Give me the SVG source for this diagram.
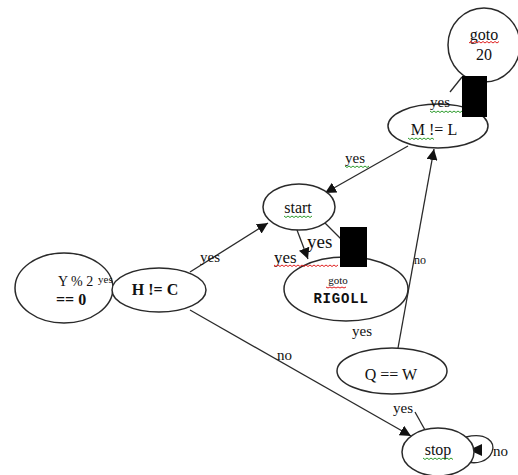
<svg xmlns="http://www.w3.org/2000/svg" width="518" height="475" viewBox="0 0 518 475">
  <style>
    .node { fill: #fff; stroke: #2a2a2a; stroke-width: 1.5; }
    .edge { fill: none; stroke: #2a2a2a; stroke-width: 1.3; }
    .t { font-family: "Liberation Serif", "Times New Roman", serif; font-size: 15px; fill: #111; }
    .n { font-size: 16px; }
    .b { font-weight: bold; }
    .m { font-family: "Liberation Mono", "Courier New", monospace; font-size: 14px; font-weight: bold; fill: #111; }
    .red { fill: none; stroke: #e02020; stroke-width: 1; }
    .grn { fill: none; stroke: #2a9a2a; stroke-width: 1; }
    .mask { fill: #000; }
  </style>
  <defs>
    <marker id="arr" viewBox="0 0 10 10" refX="10" refY="5" markerWidth="11" markerHeight="11" markerUnits="userSpaceOnUse" orient="auto">
      <path d="M0,0 L10,5 L0,10 z" fill="#111"/>
    </marker>
  </defs>

  <!-- connectors -->
  <g id="edges">
    <line class="edge" x1="462" y1="77" x2="450" y2="92"/>
    <line class="edge" x1="408" y1="146" x2="325" y2="193" marker-end="url(#arr)"/>
    <line class="edge" x1="190" y1="272" x2="268" y2="223" marker-end="url(#arr)"/>
    <line class="edge" x1="297" y1="230" x2="308" y2="259" marker-end="url(#arr)"/>
    <line class="edge" x1="325" y1="223" x2="342" y2="240"/>
    <line class="edge" x1="98" y1="290" x2="112" y2="290" marker-end="url(#arr)"/>
    <line class="edge" x1="190" y1="310" x2="411" y2="436" marker-end="url(#arr)"/>
    <line class="edge" x1="398" y1="348" x2="434" y2="149" marker-end="url(#arr)"/>
    <line class="edge" x1="415" y1="412" x2="425" y2="430"/>
    <path class="edge" d="M466,437 C486,432 496,442 492,452 C488,462 476,464 468,462"/>
    <path d="M469,450 L482,444 L482,456 z" fill="#111"/>
  </g>

  <g id="n_goto20">
    <ellipse class="node" cx="484" cy="45" rx="36" ry="37"/>
    <text class="t n" x="484" y="40" text-anchor="middle">goto</text>
    <text class="t n" x="484" y="60" text-anchor="middle">20</text>
    <path class="red" d="M469,43 l2,-1.5 l2,1.5 l2,-1.5 l2,1.5 l2,-1.5 l2,1.5 l2,-1.5 l2,1.5 l2,-1.5 l2,1.5 l2,-1.5 l2,1.5 l2,-1.5 l2,1.5 l2,-1.5"/>
  </g>

  <g id="n_ml">
    <ellipse class="node" cx="438" cy="126" rx="50" ry="22"/>
    <text class="t n" x="434" y="135" text-anchor="middle">M != L</text>
    <path class="grn" d="M408,138 l2,1.5 l2,-1.5 l2,1.5 l2,-1.5 l2,1.5 l2,-1.5 l2,1.5 l2,-1.5 l2,1.5 l2,-1.5 l2,1.5 l2,-1.5 l2,1.5"/>
    <text class="t" x="430" y="107">yes</text>
    <path class="grn" d="M430,111 l2,1.5 l2,-1.5 l2,1.5 l2,-1.5 l2,1.5 l2,-1.5 l2,1.5 l2,-1.5 l2,1.5 l2,-1.5 l2,1.5 l2,-1.5 l2,1.5 l2,-1.5 l2,1.5 l2,-1.5 l2,1.5 l2,-1.5 l2,1.5 l2,-1.5 l2,1.5 l2,-1.5 l2,1.5 l2,-1.5 l2,1.5 l2,-1.5 l2,1.5 l2,-1.5"/>
    <rect class="mask" x="462" y="76" width="25" height="41"/>
  </g>

  <g id="n_start">
    <ellipse class="node" cx="299" cy="207" rx="36" ry="23"/>
    <text class="t n" x="298" y="213" text-anchor="middle">start</text>
    <path class="grn" d="M284,216 l2,1.5 l2,-1.5 l2,1.5 l2,-1.5 l2,1.5 l2,-1.5 l2,1.5 l2,-1.5 l2,1.5 l2,-1.5 l2,1.5 l2,-1.5 l2,1.5 l2,-1.5"/>
  </g>

  <g id="n_rigoll">
    <ellipse class="node" cx="346" cy="289" rx="62" ry="32"/>
    <text class="t" x="338" y="284" text-anchor="middle" style="font-size:11px">goto</text>
    <path class="red" d="M326,287 l2,1 l2,-1 l2,1 l2,-1 l2,1 l2,-1 l2,1 l2,-1 l2,1 l2,-1"/>
    <text class="m" x="341" y="303" text-anchor="middle" style="letter-spacing:0.8px">RIGOLL</text>
  </g>

  <!-- edge labels near start / goto RIGOLL -->
  <g id="labels_start">
    <text class="t" x="307" y="248" style="font-size:19px">yes</text>
    <text class="t" x="274" y="263" style="font-size:17px">yes</text>
    <path class="red" d="M274,265 l2,1.5 l2,-1.5 l2,1.5 l2,-1.5 l2,1.5 l2,-1.5 l2,1.5 l2,-1.5 l2,1.5 l2,-1.5 l2,1.5 l2,-1.5 l2,1.5 l2,-1.5 l2,1.5 l2,-1.5 l2,1.5 l2,-1.5 l2,1.5 l2,-1.5 l2,1.5 l2,-1.5 l2,1.5 l2,-1.5 l2,1.5 l2,-1.5 l2,1.5 l2,-1.5 l2,1.5 l2,-1.5 l2,1.5 l2,-1.5"/>
    <rect class="mask" x="340" y="227" width="27" height="40"/>
  </g>

  <g id="n_y2">
    <ellipse class="node" cx="64" cy="288" rx="49" ry="35"/>
    <text class="t" x="58" y="286" style="font-size:14px">Y %  2</text>
    <text class="t b" x="56" y="305" style="font-size:16px">== 0</text>
  </g>

  <g id="n_hc">
    <ellipse class="node" cx="159" cy="290" rx="47" ry="22"/>
    <text class="t b" x="155" y="295" text-anchor="middle" style="font-size:16px">H != C</text>
    <text class="t" x="98" y="283" style="font-size:11px">yes</text>
  </g>

  <g id="n_qw">
    <ellipse class="node" cx="392" cy="371" rx="55" ry="23"/>
    <text class="t n" x="391" y="380" text-anchor="middle">Q == W</text>
  </g>

  <g id="n_stop">
    <ellipse class="node" cx="438" cy="452" rx="36" ry="24"/>
    <text class="t n" x="438" y="455" text-anchor="middle">stop</text>
    <path class="grn" d="M423,458 l2,1.5 l2,-1.5 l2,1.5 l2,-1.5 l2,1.5 l2,-1.5 l2,1.5 l2,-1.5 l2,1.5 l2,-1.5 l2,1.5 l2,-1.5 l2,1.5 l2,-1.5 l2,1.5"/>
  </g>

  <g id="edge_labels">
    <text class="t" x="345" y="163">yes</text>
    <path class="grn" d="M345,166 l2,1.5 l2,-1.5 l2,1.5 l2,-1.5 l2,1.5 l2,-1.5 l2,1.5 l2,-1.5 l2,1.5 l2,-1.5 l2,1.5 l2,-1.5"/>
    <text class="t" x="200" y="262">yes</text>
    <text class="t" x="414" y="264" style="font-size:12px">no</text>
    <text class="t" x="352" y="336">yes</text>
    <text class="t" x="277" y="360">no</text>
    <text class="t" x="393" y="413">yes</text>
    <text class="t" x="493" y="456">no</text>
  </g>
</svg>
